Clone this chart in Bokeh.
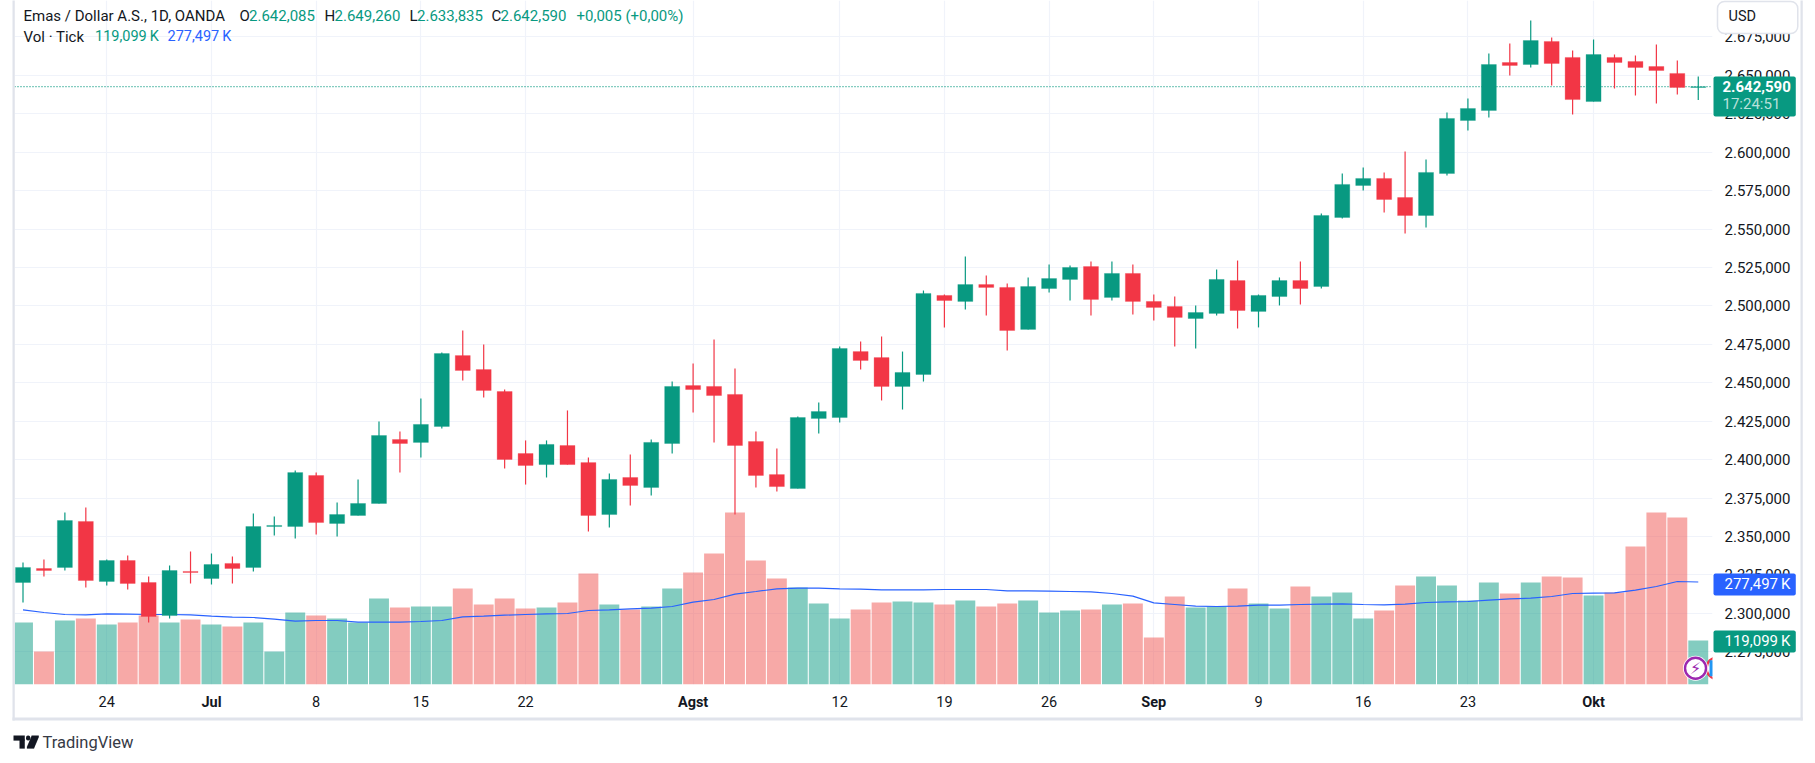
from bokeh.plotting import figure
from bokeh.embed import file_html
from bokeh.resources import INLINE
from bokeh.models import (Range1d, LinearAxis, FixedTicker, Label, ColumnDataSource, Grid)
from bokeh.core.properties import value

# ---------- data ----------
opens = [2320.1,2329.2,2329.9,2359.8,2320.8,2334.4,2320.1,2298.6,2327.3,2322.7,
         2332.5,2329.9,2356.5,2356.5,2389.7,2358.5,2363.7,2371.5,2413.1,2411.2,
         2421.6,2467.7,2458.6,2444.3,2404.0,2396.8,2409.2,2398.1,2364.3,2388.4,
         2381.9,2410.5,2448.2,2447.6,2442.4,2411.8,2390.3,2381.2,2426.8,2427.4,
         2470.3,2466.4,2447.6,2455.4,2506.8,2502.9,2513.9,2512.0,2484.7,2511.3,
         2517.2,2525.6,2505.5,2521.1,2502.9,2499.6,2491.8,2495.1,2516.5,2496.4,
         2506.1,2516.5,2512.6,2557.5,2578.3,2582.9,2570.5,2558.8,2586.1,2620.6,
         2627.1,2658.3,2657.0,2672.0,2661.6,2632.9,2661.6,2659.0,2655.7,2651.2,2642.085]
highs = [2333.1,2335.1,2365.6,2368.9,2335.1,2337.7,2324.0,2331.2,2340.3,2339.0,
         2337.0,2365.0,2363.0,2392.9,2391.6,2372.1,2387.1,2424.8,2418.3,2439.8,
         2469.7,2484.0,2474.9,2445.6,2412.5,2412.5,2432.0,2401.4,2391.0,2403.4,
         2413.1,2450.8,2462.5,2478.1,2459.3,2418.3,2407.3,2428.1,2437.2,2473.6,
         2476.8,2480.1,2470.3,2510.0,2507.4,2532.1,2519.8,2514.6,2518.5,2526.9,
         2526.3,2528.9,2528.9,2526.9,2507.4,2506.1,2500.3,2523.7,2529.5,2507.4,
         2518.5,2528.9,2560.1,2586.1,2590.0,2586.8,2600.4,2595.2,2625.8,2634.9,
         2664.2,2670.7,2685.6,2674.6,2666.1,2673.3,2663.5,2662.9,2670.0,2659.6,2649.26]
lows = [2307.1,2324.0,2327.9,2316.9,2318.2,2315.5,2294.1,2296.7,2319.5,2318.8,
        2319.5,2327.3,2350.7,2348.7,2351.3,2350.0,2363.7,2371.5,2391.6,2401.4,
        2420.3,2451.5,2440.4,2394.2,2383.8,2388.4,2396.8,2353.3,2355.9,2370.2,
        2376.7,2404.0,2430.7,2411.2,2364.3,2381.9,2379.3,2381.2,2417.0,2424.2,
        2458.6,2438.5,2432.6,2450.8,2486.0,2497.7,2493.8,2471.0,2484.7,2508.7,
        2503.5,2493.8,2503.5,2494.4,2490.5,2473.6,2472.3,2493.8,2485.3,2486.0,
        2500.3,2500.9,2511.3,2556.8,2575.1,2560.8,2547.1,2551.0,2584.8,2614.1,
        2622.5,2649.9,2655.1,2643.4,2624.5,2632.9,2641.4,2636.8,2631.6,2637.5,2633.835]
closes = [2329.9,2327.9,2360.4,2321.4,2334.4,2319.5,2298.0,2327.9,2326.6,2331.8,
          2329.2,2356.5,2357.2,2391.6,2359.1,2364.3,2371.5,2415.7,2410.5,2422.9,
          2469.0,2458.0,2445.0,2400.1,2396.2,2409.9,2396.8,2363.7,2387.1,2383.2,
          2411.2,2447.6,2445.6,2441.7,2409.2,2389.7,2382.5,2427.4,2431.3,2472.3,
          2464.5,2447.6,2456.7,2508.1,2503.5,2513.9,2512.0,2484.0,2512.6,2517.8,
          2525.0,2504.2,2521.1,2502.9,2499.0,2492.5,2495.7,2517.2,2497.0,2506.8,
          2516.5,2511.3,2558.8,2579.0,2582.9,2569.2,2558.8,2586.8,2621.9,2628.4,
          2657.0,2656.4,2672.6,2657.7,2634.2,2663.5,2658.3,2655.1,2653.1,2642.1,2642.59]
volumes = [167.8,89.3,173.2,178.7,162.4,167.8,186.8,167.8,175.9,162.4,
           157.0,167.8,89.3,194.9,186.8,178.7,167.8,232.8,208.4,211.1,
           211.1,259.9,216.6,232.8,205.7,208.4,222.0,300.5,216.6,203.0,
           211.1,259.9,303.2,354.6,465.6,335.7,286.9,262.6,219.3,178.7,
           203.0,222.0,224.7,222.0,216.6,227.4,211.1,219.3,227.4,194.9,
           200.3,203.0,216.6,219.3,127.2,238.2,208.4,211.1,259.9,219.3,
           205.7,265.3,238.2,249.0,178.7,200.3,268.0,292.3,268.0,227.4,
           276.1,246.3,276.1,292.3,289.6,240.9,249.0,373.6,465.6,452.1,119.099]
volume_ma = [202.1,194.9,189.5,188.6,191.3,190.4,189.5,189.5,188.6,185.0,
             182.3,181.4,176.9,171.4,173.2,173.2,168.7,168.7,168.7,170.5,
             173.2,183.2,185.0,187.7,189.5,191.3,192.2,200.3,202.1,204.8,
             206.6,211.1,222.9,230.1,244.5,251.7,259.0,260.8,260.8,259.0,
             258.1,256.3,256.3,256.3,257.2,257.2,257.2,253.5,253.5,252.6,
             251.7,250.8,246.3,239.1,221.1,216.6,212.0,211.1,212.0,214.7,
             214.7,216.6,217.5,218.4,216.6,215.7,217.5,222.0,223.8,224.7,
             228.3,231.9,233.7,238.2,246.3,247.2,248.1,255.4,265.3,278.8,277.497]
price_ticks = [2275,2300,2325,2350,2375,2400,2425,2450,2475,2500,2525,2550,2575,2600,2625,2650,2675]
date_ticks = [4,9,14,19,24,32,39,44,49,54,59,64,69,75]
date_labels = ["24","Jul","8","15","22","Agst","12","19","26","Sep","9","16","23","Okt"]
months = ["Jul","Agst","Sep","Okt"]
last_price = 2642.59

GREEN, RED, BLUE = "#089981", "#f23645", "#2962ff"
VOL_RED = "#ef5350"
GRID, BORDER, INK = "#f0f3fa", "#e0e3eb", "#131722"
FONT = "Roboto"

n = len(closes)
idx = list(range(n))
colors = [GREEN if c >= o else RED for o, c in zip(opens, closes)]
vol_colors = [GREEN if c >= o else VOL_RED for o, c in zip(opens, closes)]

XMIN, XMAX = -0.406, 80.68
p = figure(width=1815, height=763, frame_width=1698, frame_height=684,
           output_backend="svg", toolbar_location=None,
           x_range=Range1d(XMIN, XMAX), y_range=Range1d(2253.76, 2698.63),
           x_axis_type=None, y_axis_type=None,
           min_border_left=14, min_border_top=0, min_border_right=103, min_border_bottom=79,
           outline_line_color=None, background_fill_color="white", border_fill_color="white")
p.extra_y_ranges = {"vol": Range1d(0, 1851.6)}

# axes
xaxis = LinearAxis(ticker=FixedTicker(ticks=date_ticks),
                   major_label_overrides={t: ("" if l in months else l) for t, l in zip(date_ticks, date_labels)},
                   axis_line_color=None, major_tick_line_color=None, minor_tick_line_color=None,
                   major_label_text_font=FONT, major_label_text_font_size="14.5px",
                   major_label_text_color=INK, major_label_standoff=5)
p.add_layout(xaxis, "below")
yaxis = LinearAxis(ticker=FixedTicker(ticks=price_ticks),
                   major_label_overrides={t: f"{t//1000}.{t%1000:03d},000" for t in price_ticks},
                   axis_line_color=None, major_tick_line_color=None, minor_tick_line_color=None,
                   major_label_text_font=FONT, major_label_text_font_size="15px",
                   major_label_text_color=INK, major_label_standoff=6)
p.add_layout(yaxis, "right")

p.add_layout(Grid(dimension=0, ticker=FixedTicker(ticks=date_ticks), grid_line_color=GRID, grid_line_width=1.2))
p.add_layout(Grid(dimension=1, ticker=FixedTicker(ticks=price_ticks), grid_line_color=GRID, grid_line_width=1.2))

src = ColumnDataSource(dict(x=idx, o=opens, h=highs, l=lows, c=closes, v=volumes, ma=volume_ma, col=colors, vcol=vol_colors))

# volume
p.vbar(x="x", top="v", bottom=0, width=0.95, source=src, y_range_name="vol",
       fill_color="vcol", fill_alpha=0.5, line_color=None)
p.line(x="x", y="ma", source=src, y_range_name="vol", line_color=BLUE, line_width=1.2)

# last-price line
p.line(x=[XMIN, XMAX], y=[last_price, last_price], line_color=GREEN, line_width=1.4, line_dash="1 2")

# candles
p.segment(x0="x", x1="x", y0="l", y1="h", source=src, line_color="col", line_width=1.2)
tops = [max(o, c) for o, c in zip(opens, closes)]
bots = [min(o, c) for o, c in zip(opens, closes)]
src2 = ColumnDataSource(dict(x=idx, t=tops, b=bots, col=colors))
p.vbar(x="x", top="t", bottom="b", width=0.716, source=src2, fill_color="col", line_color="col", line_width=0.3)

# event badges at the last bar
badge_y = 44
p.scatter(x=[80.92], y=[badge_y], y_range_name="vol", size=22, marker="circle", fill_color="white",
          line_color=RED, line_width=2.4)
p.scatter(x=[80.92], y=[badge_y], y_range_name="vol", size=16, marker="square", fill_color="#2196f3", line_color=None)
p.scatter(x=[79.87], y=[badge_y], y_range_name="vol", size=25, marker="circle", fill_color="white", line_color=None)
p.scatter(x=[79.87], y=[badge_y], y_range_name="vol", size=21, marker="circle", fill_color="white",
          line_color="#9c27b0", line_width=2.4)
p.text(x=[79.87], y=[badge_y], text=["⚡"], y_range_name="vol", text_align="center", text_baseline="middle",
       text_font=value("DejaVu Sans"), text_font_size="16px", text_color="#9c27b0")

def lab(text, x, y, color=INK, size="15px", weight="normal", align="left", alpha=1.0):
    p.add_layout(Label(x=x, y=y, x_units="canvas", y_units="canvas", text=text,
                       text_color=color, text_font=FONT, text_font_size=size, text_alpha=alpha,
                       text_font_style=weight, text_align=align, text_baseline="middle"), "right")

def box(l, r, t, b, fill, line=None, radius=0, lw=1.0):
    # a text-less label whose padding gives the rectangle
    w, h = int(round(r - l)), int(round(b - t))
    p.add_layout(Label(x=l, y=t, x_units="canvas", y_units="canvas", text=" ",
                       text_font_size="1px", text_align="left", text_baseline="top",
                       padding=dict(left=0, right=w, top=0, bottom=h), background_fill_color=fill,
                       border_line_color=line, border_line_width=lw, border_radius=radius), "right")

# outer border (left, right, bottom)
box(12, 14, 0, 719, BORDER)
box(1800, 1802, 0, 719, BORDER)
box(12, 1802, 717, 719, BORDER)

# month labels on the time axis
for t, l in zip(date_ticks, date_labels):
    if l in months:
        lab(l, 22.5 + 20.94 * t, 702, weight="bold", size="14.5px", align="center")

# tags on the price scale
box(1713, 1795, 76, 115, GREEN, radius=2)
lab("2.642,590", 1722, 85.5, color="white", weight="bold")
lab("17:24:51", 1722, 103.5, color="white", alpha=0.72)
box(1713, 1795, 573, 594, BLUE, radius=2)
lab("277,497\u2009K", 1724, 583, color="white")
box(1713, 1795, 630, 651, GREEN, radius=2)
lab("119,099\u2009K", 1724, 640, color="white")

# currency button
box(1717, 1797, 1, 32, "white", line=BORDER, radius=7, lw=1.5)
lab("USD", 1728, 15.5, size="14.5px")

# legend rows
y1, y2 = 15, 36
lab("Emas / Dollar A.S., 1D, OANDA", 23, y1)
lab("O", 239, y1); lab("2.642,085", 248.5, y1, GREEN)
lab("H", 324, y1); lab("2.649,260", 334, y1, GREEN)
lab("L", 409, y1); lab("2.633,835", 416.5, y1, GREEN)
lab("C", 491, y1); lab("2.642,590", 500, y1, GREEN)
lab("+0,005 (+0,00%)", 576, y1, GREEN)
lab("Vol · Tick", 23, y2)
lab("119,099\u2009K", 94.5, y2, GREEN, size="14.5px")
lab("277,497\u2009K", 167, y2, BLUE, size="14.5px")

# TradingView mark
box(13, 24, 735, 739, INK)
box(19, 24, 739, 747, INK)
box(25.5, 29.5, 735, 739, INK, radius=2)
for row in range(12):
    box(31 - row * 0.42, 38 - row * 0.42, 735 + row, 736 + row, INK)
lab("TradingView", 42, 741.5, color="#363a45", size="16.5px")

open("out.html", "w").write(file_html(p, INLINE))
